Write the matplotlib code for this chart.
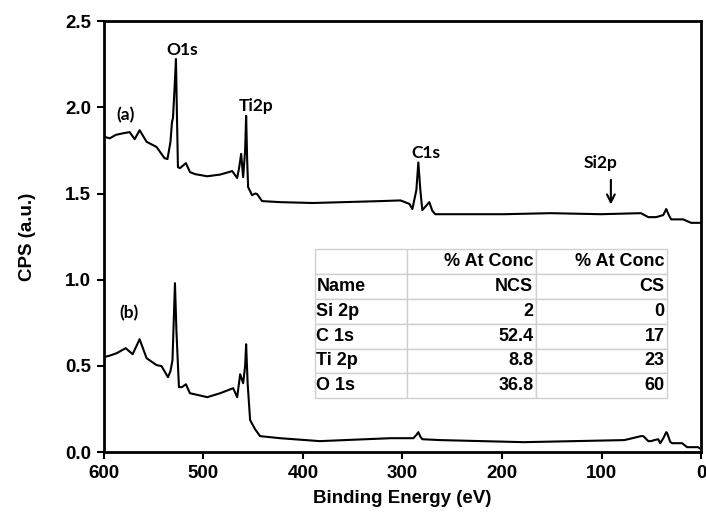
import matplotlib
matplotlib.use("Agg")
import matplotlib.pyplot as plt

# curve (a) - upper spectrum, binding energy (eV) vs CPS
energy_a = [600, 594, 588, 580, 574, 569, 564, 557, 547, 539, 536, 533, 531.5, 530.5, 529, 527.5, 526.5,
            525.5, 523.5, 517.5, 513.4, 508, 496, 483, 471, 466, 464, 462, 460, 458, 457, 456, 455, 451,
            448, 446, 441, 423, 390, 322, 302, 293, 290, 286, 284, 282, 280, 276, 273, 270, 267, 240,
            198, 151, 100.7, 60.4, 53, 45, 38, 35, 32, 30, 18, 10, 0]
cps_a = [1.83, 1.82, 1.84, 1.85, 1.856, 1.815, 1.867, 1.80, 1.77, 1.705, 1.70, 1.80, 1.914, 1.937, 2.10,
         2.28, 1.95, 1.653, 1.647, 1.676, 1.624, 1.612, 1.60, 1.61, 1.63, 1.59, 1.65, 1.73, 1.595, 1.75,
         1.95, 1.70, 1.537, 1.49, 1.50, 1.497, 1.456, 1.45, 1.445, 1.456, 1.46, 1.44, 1.41, 1.52, 1.68,
         1.52, 1.404, 1.43, 1.45, 1.40, 1.38, 1.38, 1.38, 1.386, 1.38, 1.386, 1.363, 1.363, 1.375, 1.41,
         1.37, 1.35, 1.35, 1.33, 1.33]

# curve (b) - lower spectrum
energy_b = [600, 594, 587, 578, 571, 564, 557, 547, 542, 535.5, 533, 531, 529.5, 528.5, 527, 524.5,
            521.5, 517.5, 513.5, 496, 483, 470, 466, 463, 460, 458, 457, 455.5, 453, 448, 443, 423,
            383, 312, 289, 286, 284, 282, 280, 262, 178, 77, 60.4, 58, 53, 50, 47, 43, 41, 38, 35, 34,
            31, 29, 20, 19, 14, 3, 0]
cps_b = [0.551, 0.56, 0.574, 0.603, 0.568, 0.655, 0.545, 0.505, 0.499, 0.435, 0.47, 0.533, 0.80, 0.98,
         0.70, 0.377, 0.377, 0.394, 0.342, 0.319, 0.342, 0.371, 0.319, 0.452, 0.40, 0.50, 0.626, 0.40,
         0.186, 0.133, 0.093, 0.081, 0.064, 0.081, 0.081, 0.10, 0.116, 0.09, 0.075, 0.07, 0.058, 0.07,
         0.093, 0.093, 0.064, 0.064, 0.07, 0.075, 0.052, 0.08, 0.116, 0.11, 0.06, 0.052, 0.052, 0.052,
         0.029, 0.029, 0.017]

# composition table
row_names = ["Si 2p", "C 1s", "Ti 2p", "O 1s"]
ncs_conc = ["2", "52.4", "8.8", "36.8"]
cs_conc = ["0", "17", "23", "60"]

fig = plt.figure(figsize=(7.06, 5.27), dpi=100)
ax = fig.add_axes([0.147, 0.142, 0.846, 0.818])

ax.plot(energy_a, cps_a, color="black", lw=1.5)
ax.plot(energy_b, cps_b, color="black", lw=1.5)

ax.set_xlim(600, 0)
ax.set_ylim(0, 2.5)
ax.set_xticks([600, 500, 400, 300, 200, 100, 0])
ax.set_yticks([0, 0.5, 1.0, 1.5, 2.0, 2.5])
ax.yaxis.set_major_formatter(matplotlib.ticker.FormatStrFormatter("%.1f"))

tick_font = {"family": "Liberation Sans", "weight": "bold", "size": 13.5}
for lbl in ax.get_xticklabels() + ax.get_yticklabels():
    lbl.set_fontfamily("Liberation Sans")
    lbl.set_fontweight("bold")
    lbl.set_fontsize(13.5)
ax.tick_params(direction="out", width=1.5, length=5, pad=4)
for sp in ax.spines.values():
    sp.set_linewidth(2)

ax.set_xlabel("Binding Energy (eV)", fontdict=tick_font, labelpad=6)
ax.set_ylabel("CPS (a.u.)", fontdict=tick_font, labelpad=21)

# peak labels
ann = {"family": "Lato", "weight": "bold", "size": 12.5}
ax.text(521.5, 2.33, "O1s", ha="center", va="center", fontdict=ann)
ax.text(447, 2.01, "Ti2p", ha="center", va="center", fontdict=ann)
ax.text(578, 1.955, "(a)", ha="center", va="center", fontdict=ann)
ax.text(276, 1.734, "C1s", ha="center", va="center", fontdict=ann)
ax.text(100.6, 1.676, "Si2p", ha="center", va="center", fontdict=ann)
ax.text(575, 0.806, "(b)", ha="center", va="center", fontdict=ann)
ax.annotate("", xy=(90.6, 1.42), xytext=(90.6, 1.595),
            arrowprops=dict(arrowstyle="->", color="black", lw=1.5, mutation_scale=14))

cell_text = [["", "% At Conc", "% At Conc"], ["Name", "NCS", "CS"]]
for name, a, b in zip(row_names, ncs_conc, cs_conc):
    cell_text.append([name, a, b])

tbl = ax.table(cellText=cell_text, colWidths=[92, 129, 131],
               bbox=[0.353, 0.125, 0.590, 0.346])
tbl.auto_set_font_size(False)
for (r, c), cell in tbl.get_celld().items():
    cell.set_edgecolor("#d0d0d0")
    cell.set_linewidth(1)
    cell.set_facecolor("white")
    t = cell.get_text()
    t.set_fontfamily("Liberation Sans")
    t.set_fontweight("bold")
    t.set_fontsize(13)
    if c == 0:
        cell._loc = "left"
        t.set_ha("left")
    else:
        cell._loc = "right"
        t.set_ha("right")
    cell.PAD = 0.02

fig.savefig("out.png", dpi=100)
